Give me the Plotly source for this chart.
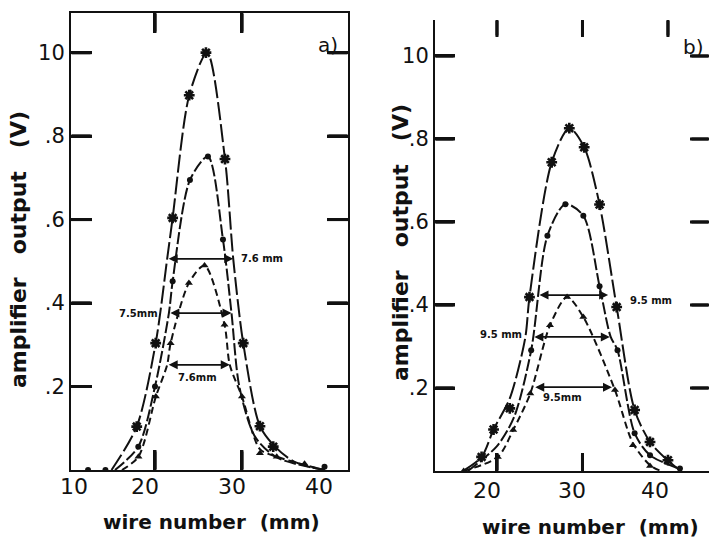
import plotly.graph_objects as go

# ---------------- data ----------------
# Panel a) — curves
a_star_cx = [15.0, 17.9, 20.08, 21.4, 22.03, 23.94, 26.0, 28.05, 29.0, 30.15, 32.07, 33.8, 36.0, 39.5]
a_star_cy = [0.0, 0.104, 0.304, 0.506, 0.604, 0.898, 1.0, 0.745, 0.506, 0.304, 0.105, 0.056, 0.02, 0.0]
a_dot_cx = [15.4, 18.08, 20.0, 21.6, 22.03, 24.02, 26.09, 27.82, 28.8, 29.7, 31.5, 34.0, 39.5]
a_dot_cy = [0.0, 0.056, 0.20, 0.376, 0.452, 0.695, 0.751, 0.552, 0.376, 0.20, 0.08, 0.03, 0.0]
a_tri_cx = [16.2, 18.1, 20.1, 21.4, 21.8, 23.9, 25.7, 28.0, 28.6, 30.0, 32.07, 34.0, 37.2, 39.5]
a_tri_cy = [0.0, 0.032, 0.176, 0.252, 0.304, 0.448, 0.49, 0.348, 0.252, 0.176, 0.05, 0.032, 0.012, 0.0]
# Panel a) — markers
a_star_mx = [17.9, 20.08, 22.03, 23.94, 25.86, 28.05, 30.15, 32.07, 33.6]
a_star_my = [0.104, 0.304, 0.604, 0.898, 1.0, 0.745, 0.304, 0.105, 0.056]
a_dot_mx = [12.3, 14.3, 18.08, 20.0, 22.03, 24.02, 26.09, 27.82, 39.5]
a_dot_my = [0.0, 0.0, 0.056, 0.20, 0.452, 0.695, 0.751, 0.552, 0.008]
a_tri_mx = [18.1, 20.1, 21.8, 23.9, 25.7, 28.0, 30.0, 32.07, 34.0, 37.2]
a_tri_my = [0.032, 0.176, 0.304, 0.448, 0.49, 0.348, 0.176, 0.04, 0.032, 0.015]

# Panel b) — curves
b_star_cx = [16.0, 18.2, 19.6, 21.5, 23.3, 23.8, 26.4, 28.46, 30.2, 32.0, 34.0, 36.1, 37.9, 40.0, 41.5]
b_star_cy = [0.0, 0.034, 0.10, 0.175, 0.32, 0.419, 0.744, 0.826, 0.78, 0.642, 0.395, 0.147, 0.07, 0.025, 0.0]
b_dot_cx = [16.6, 20.0, 22.0, 24.0, 25.9, 28.0, 30.1, 32.0, 33.3, 34.1, 36.1, 37.9, 41.4]
b_dot_cy = [0.0, 0.06, 0.13, 0.291, 0.567, 0.643, 0.615, 0.445, 0.323, 0.291, 0.091, 0.038, 0.005]
b_tri_cx = [16.1, 20.1, 21.9, 23.9, 26.2, 28.2, 30.1, 33.8, 35.9, 37.9, 39.2]
b_tri_cy = [0.0, 0.034, 0.099, 0.187, 0.351, 0.419, 0.371, 0.195, 0.067, 0.014, 0.0]
# Panel b) — markers
b_star_mx = [18.2, 19.6, 21.5, 23.8, 26.4, 28.46, 30.2, 32.0, 34.0, 36.1, 37.9, 40.0]
b_star_my = [0.034, 0.10, 0.151, 0.419, 0.744, 0.826, 0.78, 0.642, 0.395, 0.147, 0.07, 0.026]
b_dot_mx = [24.0, 25.9, 28.0, 30.1, 32.0, 34.1, 36.1, 37.9, 41.4]
b_dot_my = [0.291, 0.567, 0.643, 0.615, 0.445, 0.291, 0.091, 0.038, 0.006]
b_tri_mx = [16.1, 20.1, 21.9, 23.9, 26.2, 28.2, 30.1, 33.8, 35.9, 37.9]
b_tri_my = [0.0, 0.034, 0.099, 0.187, 0.351, 0.419, 0.371, 0.195, 0.062, 0.012]

# FWHM arrows (x_start, x_end, y) and their labels (text, x, y, anchor)
a_arrows = [(21.4, 29.0, 0.506), (21.6, 28.8, 0.376), (21.4, 28.6, 0.252)]
a_labels = [("7.6 mm", 29.0, 0.506, "left"), ("7.5mm", 21.0, 0.376, "right"), ("7.6mm", 21.7, 0.222, "left")]
b_arrows = [(24.8, 33.0, 0.424), (24.2, 33.2, 0.323), (24.3, 33.45, 0.202)]
b_labels = [("9.5 mm", 34.6, 0.41, "left"), ("9.5 mm", 23.6, 0.328, "right"), ("9.5mm", 24.5, 0.178, "left")]

y_tickvals = [0.2, 0.4, 0.6, 0.8, 1.0]
y_ticktext = [".2", ".4", ".6", ".8", "10"]
a_xtickvals = [20, 30]
b_xtickvals_bottom = [20, 30]
b_xtickvals_top = [20, 30, 40]
a_xlabel_vals = [10.68, 18.85, 28.85, 38.85]
b_xlabel_vals = [18.83, 28.77, 38.5]
a_xlabel_text = ["10", "20", "30", "40"]
b_xlabel_text = ["20", "30", "40"]

# ---------------- figure ----------------
INK = "#111111"
FONT = "DejaVu Sans"
W, H = 709, 543
A_XR = [10.34, 42.2]
A_YR = [0, 1.095]
B_XR = [12.75, 44.8]
B_YR = [0, 1.0867]
A_PX = (71, 348, 13, 470)   # left, right, top, bottom of panel a plot area
B_PX = (435, 709, 20, 471)

fig = go.Figure()

def add_series(cx, cy, mx, my, xa, ya, dash, symbol, msize, mline):
    fig.add_trace(go.Scatter(x=cx, y=cy, mode="lines", xaxis=xa, yaxis=ya,
                             line=dict(color=INK, width=2, dash=dash, shape="spline", smoothing=0.8),
                             hoverinfo="skip", showlegend=False))
    fig.add_trace(go.Scatter(x=mx, y=my, mode="markers", xaxis=xa, yaxis=ya,
                             marker=dict(symbol=symbol, size=msize, color=INK,
                                         line=dict(color=INK, width=mline)),
                             showlegend=False))

STAR_DASH = "18px,4px"
DOT_DASH = "12px,3px"
TRI_DASH = "7px,4px"

add_series(a_star_cx, a_star_cy, a_star_mx, a_star_my, "x", "y", STAR_DASH, "asterisk-open", 9, 2.6)
add_series(a_dot_cx, a_dot_cy, a_dot_mx, a_dot_my, "x", "y", DOT_DASH, "circle", 6, 0)
add_series(a_tri_cx, a_tri_cy, a_tri_mx, a_tri_my, "x", "y", TRI_DASH, "triangle-up", 7, 0)
add_series(b_star_cx, b_star_cy, b_star_mx, b_star_my, "x2", "y2", STAR_DASH, "asterisk-open", 9, 2.6)
add_series(b_dot_cx, b_dot_cy, b_dot_mx, b_dot_my, "x2", "y2", DOT_DASH, "circle", 6, 0)
add_series(b_tri_cx, b_tri_cy, b_tri_mx, b_tri_my, "x2", "y2", TRI_DASH, "triangle-up", 7, 0)

# inside tick marks as line-shaped markers placed at the tick values (line-ns/ew length = 1.4 * size)
def tick_markers(xa, ya, xr, yr, px, xvals_bottom, xvals_top, yvals_left, yvals_right, lens):
    l, r, t, b = px
    dx = (xr[1] - xr[0]) / (r - l)
    dy = (yr[1] - yr[0]) / (b - t)
    lb, lt, ll, lr = lens
    groups = [
        (list(xvals_bottom), [yr[0] + lb / 2 * dy] * len(xvals_bottom), "line-ns", lb),
        (list(xvals_top), [yr[1] - lt / 2 * dy] * len(xvals_top), "line-ns", lt),
        ([xr[0] + ll / 2 * dx] * len(yvals_left), list(yvals_left), "line-ew", ll),
        ([xr[1] - lr / 2 * dx] * len(yvals_right), list(yvals_right), "line-ew", lr),
    ]
    for xs, ys, sym, ln in groups:
        fig.add_trace(go.Scatter(x=xs, y=ys, mode="markers", xaxis=xa, yaxis=ya, cliponaxis=False,
                                 marker=dict(symbol=sym, size=ln / 1.4, color=INK,
                                             line=dict(color=INK, width=3)),
                                 hoverinfo="skip", showlegend=False))

tick_markers("x", "y", A_XR, A_YR, A_PX, a_xtickvals, a_xtickvals, y_tickvals, y_tickvals, (20, 20, 21, 21))
tick_markers("x2", "y2", B_XR, B_YR, B_PX, b_xtickvals_bottom, b_xtickvals_top, y_tickvals, y_tickvals,
             (18, 17, 20, 19))

def px_dom_x(a, b):
    return [a / W, b / W]

def px_dom_y(top, bottom):
    return [(H - bottom) / H, (H - top) / H]

tickfont = dict(family=FONT, size=21, color=INK)
base_axis = dict(showgrid=False, zeroline=False, linecolor=INK, linewidth=2, showline=True,
                 ticks="inside", tickcolor=INK, tickwidth=3)

fig.update_layout(
    width=W, height=H, margin=dict(l=0, r=0, t=0, b=0),
    paper_bgcolor="white", plot_bgcolor="white",
    xaxis=dict(domain=px_dom_x(A_PX[0], A_PX[1]), range=A_XR, tickvals=a_xtickvals, ticklen=20,
               showticklabels=False, mirror="ticks", anchor="y", **base_axis),
    yaxis=dict(domain=px_dom_y(A_PX[2], A_PX[3]), range=A_YR, tickvals=y_tickvals, ticktext=y_ticktext,
               ticklen=21, tickfont=tickfont, mirror="ticks", anchor="x", **base_axis),
    xaxis2=dict(domain=px_dom_x(B_PX[0], B_PX[1]), range=B_XR, tickvals=b_xtickvals_bottom, ticklen=18,
                showticklabels=False, anchor="y2", **base_axis),
    yaxis2=dict(domain=px_dom_y(B_PX[2], B_PX[3]), range=B_YR, tickvals=y_tickvals, ticktext=y_ticktext,
                ticklen=20, tickfont=tickfont, anchor="x2", **base_axis),
)

ann = []
# tick marks again as head-less arrows, anchored 1 px inside each frame edge
def ticks(xa, ya, xr, yr, px, xvals_bottom, xvals_top, yvals_left, yvals_right, lens):
    l, r, t, b = px
    dx = (xr[1] - xr[0]) / (r - l)
    dy = (yr[1] - yr[0]) / (b - t)
    lb, lt, ll, lr = lens
    specs = ([(v, yr[0] + dy, 0, -(lb - 1)) for v in xvals_bottom] +
             [(v, yr[1] - dy, 0, lt - 1) for v in xvals_top] +
             [(xr[0] + dx, v, ll - 1, 0) for v in yvals_left] +
             [(xr[1] - dx, v, -(lr - 1), 0) for v in yvals_right])
    for x, y, axp, ayp in specs:
        ann.append(dict(x=x, y=y, xref=xa, yref=ya, ax=axp, ay=ayp, axref="pixel", ayref="pixel",
                        text="", showarrow=True, arrowhead=0, arrowwidth=3, arrowcolor=INK,
                        standoff=0, startstandoff=0))
ticks("x", "y", A_XR, A_YR, A_PX, a_xtickvals, a_xtickvals, y_tickvals, y_tickvals, (20, 20, 21, 21))
ticks("x2", "y2", B_XR, B_YR, B_PX, b_xtickvals_bottom, b_xtickvals_top, y_tickvals, y_tickvals,
      (18, 17, 20, 19))

for (x0, x1, y), (xa, ya) in [(t, ("x", "y")) for t in a_arrows] + [(t, ("x2", "y2")) for t in b_arrows]:
    ann.append(dict(x=x1, y=y, ax=x0, ay=y, xref=xa, yref=ya, axref=xa, ayref=ya,
                    text="", showarrow=True, arrowhead=2, arrowside="end+start",
                    arrowsize=1.0, arrowwidth=1.8, arrowcolor=INK))
for (t, x, y, anc), (xa, ya) in [(l, ("x", "y")) for l in a_labels] + [(l, ("x2", "y2")) for l in b_labels]:
    ann.append(dict(x=x, y=y, xref=xa, yref=ya, text="<b>%s</b>" % t, showarrow=False,
                    xanchor=anc, yanchor="middle", xshift=6 if anc == "left" else -4,
                    font=dict(family=FONT, size=10, color=INK)))
for v, t in zip(a_xlabel_vals, a_xlabel_text):
    ann.append(dict(x=v, y=(H - 486) / H, xref="x", yref="paper", text=t, showarrow=False,
                    xanchor="center", yanchor="middle", font=dict(family=FONT, size=22, color=INK)))
for v, t in zip(b_xlabel_vals, b_xlabel_text):
    ann.append(dict(x=v, y=(H - 490) / H, xref="x2", yref="paper", text=t, showarrow=False,
                    xanchor="center", yanchor="middle", font=dict(family=FONT, size=22, color=INK)))
def paper_text(x, y, text, font, angle=0):
    ann.append(dict(x=x / W, y=(H - y) / H, xref="paper", yref="paper", text=text,
                    showarrow=False, textangle=angle, xanchor="center", yanchor="middle", font=font))
paper_text(211, 522, "<b>wire number  (mm)</b>", dict(family=FONT, size=20, color=INK))
paper_text(590, 527, "<b>wire number  (mm)</b>", dict(family=FONT, size=20, color=INK))
paper_text(18, 250, "<b>amplifier   output   (V)</b>", dict(family=FONT, size=22, color=INK), -90)
paper_text(401, 243, "<b>amplifier   output   (V)</b>", dict(family=FONT, size=22, color=INK), -90)
paper_text(328, 45, "a)", dict(family=FONT, size=20, color=INK))
paper_text(693, 47, "b)", dict(family=FONT, size=20, color=INK))

fig.update_layout(annotations=ann)
fig.write_html("out.html", config={"displayModeBar": False},
               post_script="document.body.style.margin='0';document.body.style.overflow='hidden';")
